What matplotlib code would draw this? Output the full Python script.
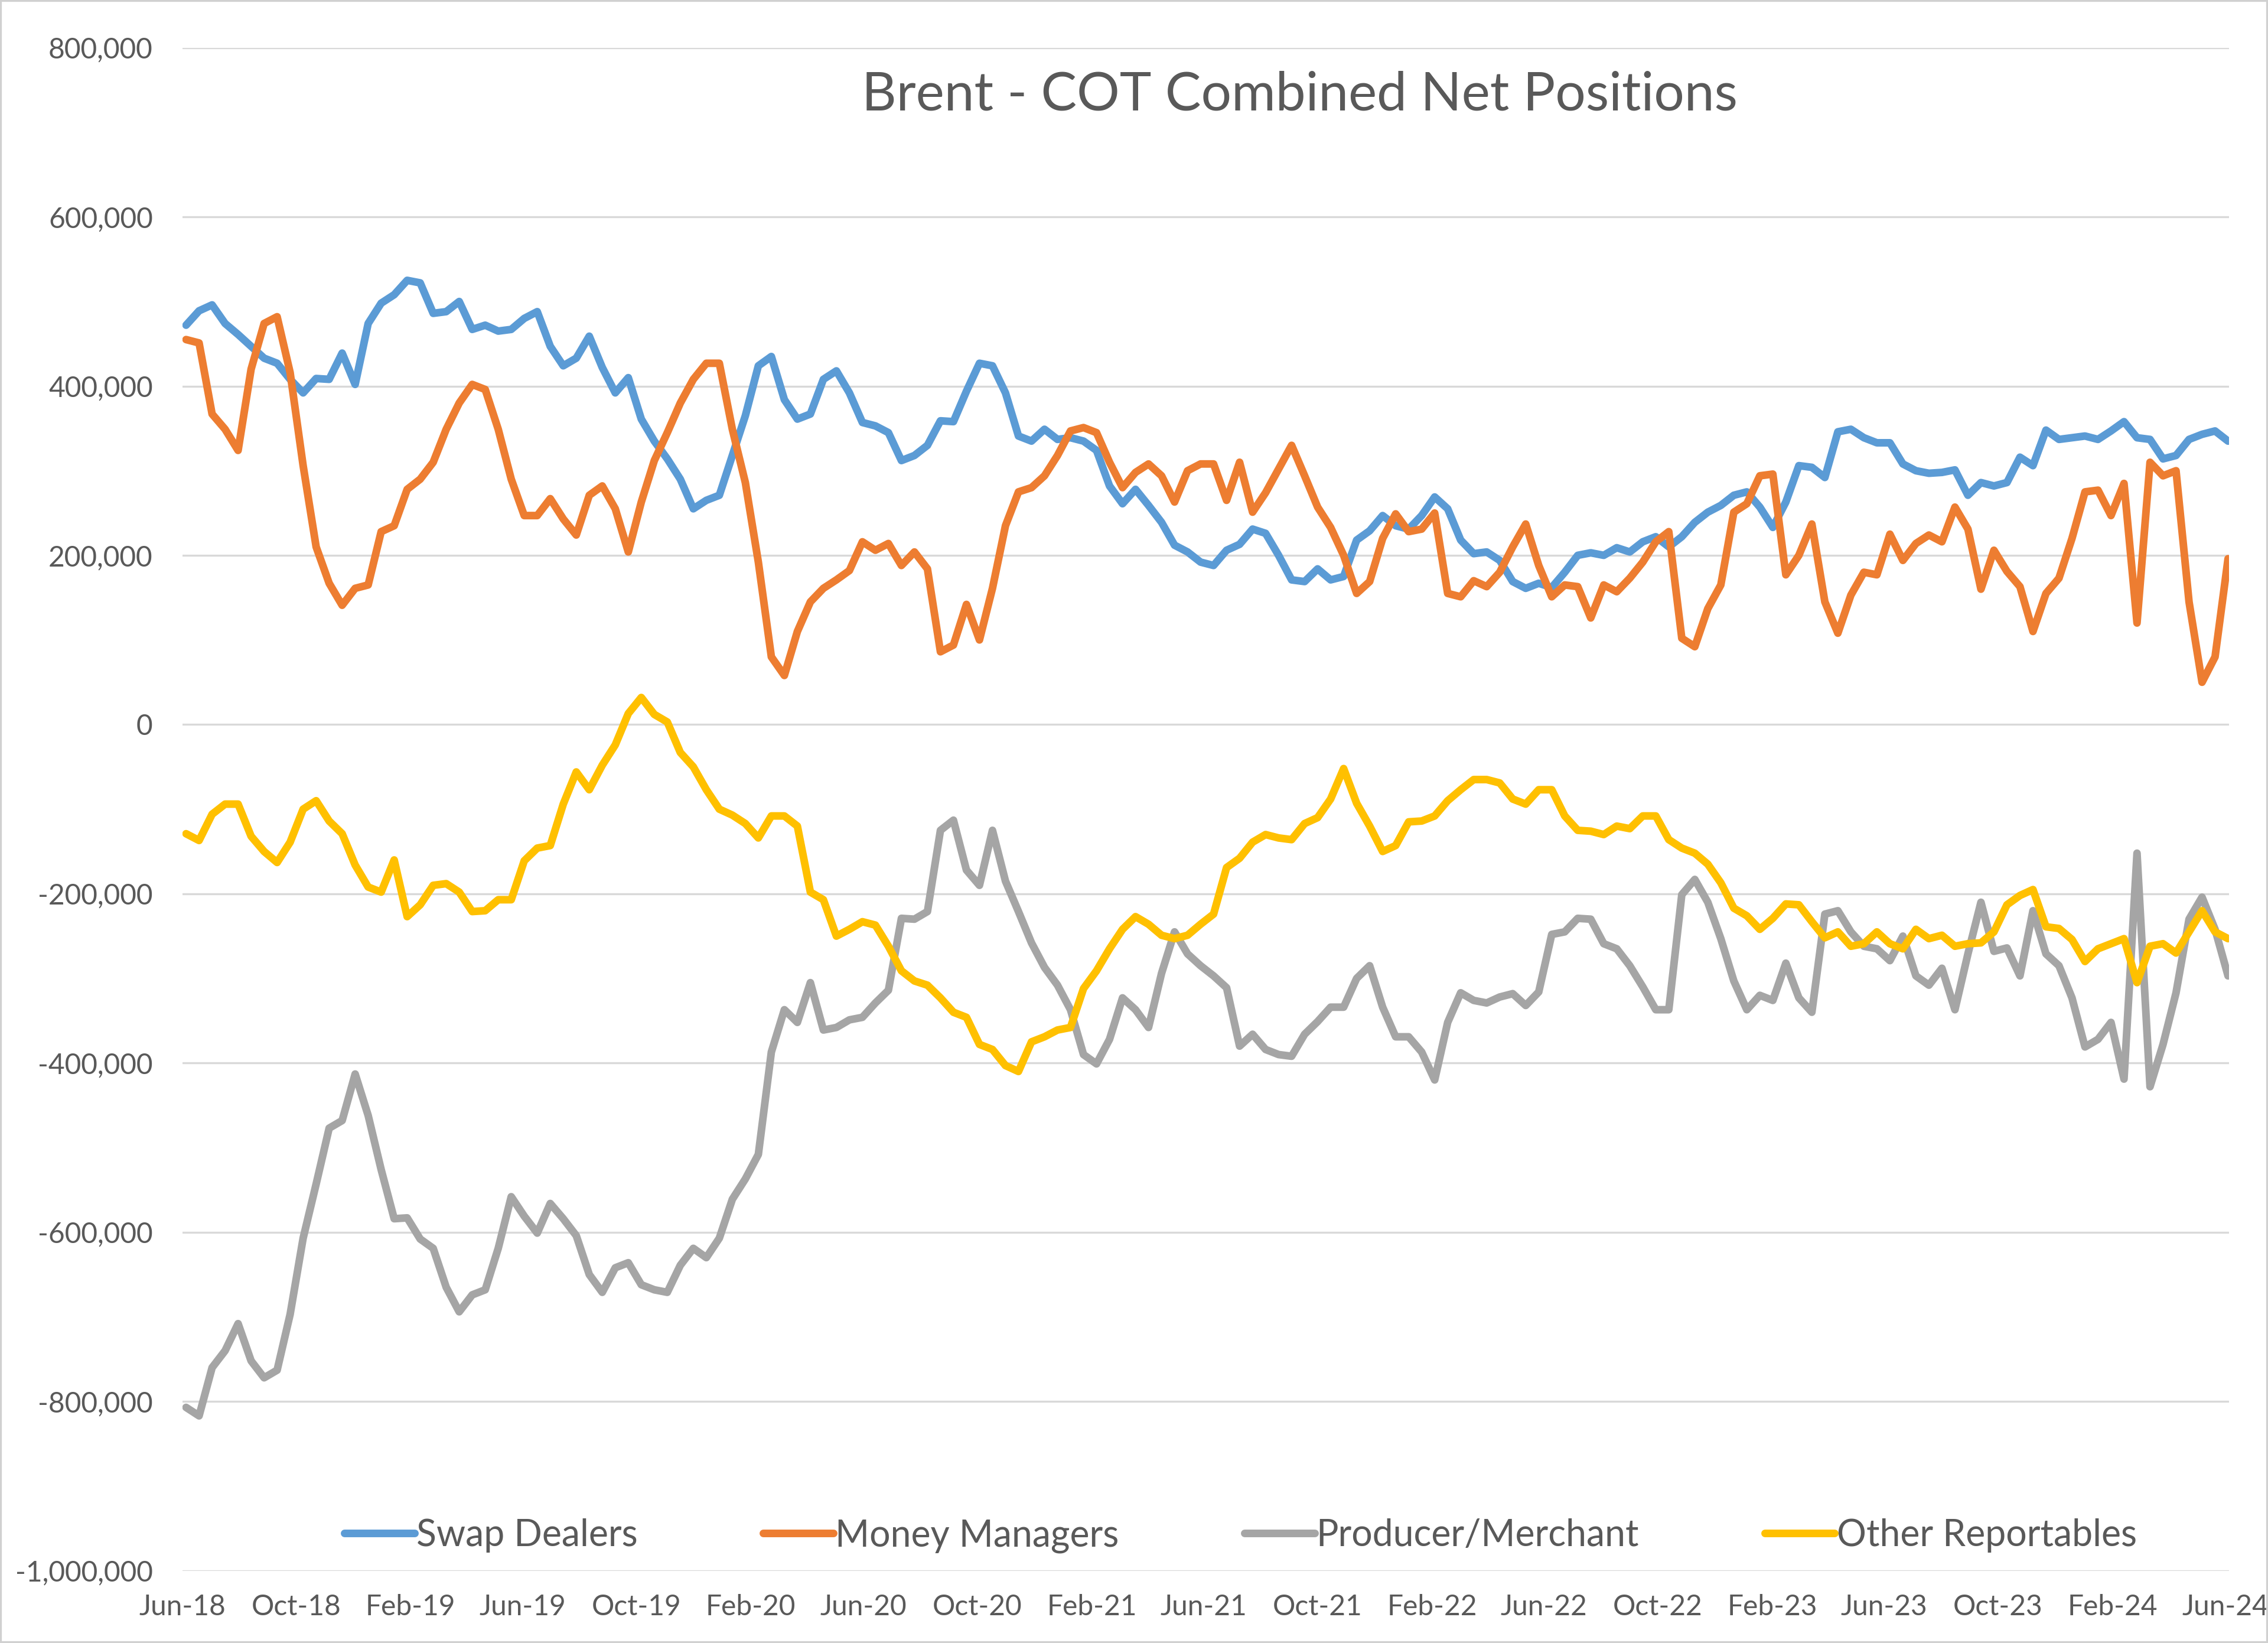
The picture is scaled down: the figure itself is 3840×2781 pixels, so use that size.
import numpy as np
import pandas as pd
import matplotlib
matplotlib.use("Agg")
import matplotlib.pyplot as plt
from matplotlib.ticker import FuncFormatter, MultipleLocator
from matplotlib.patches import Rectangle

plt.rcParams['font.family'] = ['Lato', 'DejaVu Sans']

# net positions in thousands of contracts, read fortnightly from Jun-18 to Jun-24
swap_dealers = [
    472, 489, 496, 474, 461, 447, 433, 427, 408, 392, 409, 408, 439, 402, 474, 498,
    508, 525, 522, 486, 488, 500, 467, 472, 465, 467, 480, 488, 447, 424, 433, 459,
    422, 392, 410, 361, 335, 314, 290, 255, 265, 271, 318, 365, 424, 435, 384, 361,
    367, 408, 418, 392, 357, 353, 345, 312, 318, 330, 359, 358, 394, 427, 424, 392,
    341, 335, 349, 337, 339, 335, 324, 282, 261, 278, 259, 239, 212, 204, 192, 188,
    206, 213, 231, 226, 200, 171, 169, 184, 171, 175, 218, 229, 247, 235, 231, 247,
    269, 255, 218, 202, 204, 194, 169, 161, 167, 162, 180, 200, 203, 200, 209, 204,
    216, 222, 210, 222, 239, 251, 259, 271, 275, 257, 233, 263, 306, 304, 292, 346,
    349, 339, 333, 333, 308, 300, 297, 298, 301, 271, 286, 282, 286, 316, 306, 348,
    337, 339, 341, 337, 347, 358, 339, 337, 314, 318, 337, 343, 347, 335,
]
money_managers = [
    455, 451, 367, 349, 324, 420, 474, 482, 416, 306, 210, 167, 141, 161, 165, 228,
    235, 278, 290, 310, 349, 380, 402, 396, 349, 290, 247, 247, 267, 243, 224, 271,
    282, 255, 204, 263, 312, 345, 380, 408, 427, 427, 349, 286, 192, 80, 58, 110,
    145, 161, 171, 182, 216, 206, 214, 188, 204, 184, 86, 94, 142, 100, 161, 235,
    275, 280, 294, 318, 347, 351, 345, 310, 280, 298, 308, 294, 263, 300, 308, 308,
    265, 310, 251, 274, 302, 330, 294, 257, 233, 200, 155, 169, 220, 249, 228, 231,
    250, 155, 151, 170, 163, 180, 210, 237, 188, 151, 165, 163, 126, 165, 157, 173,
    192, 216, 228, 102, 92, 137, 165, 251, 261, 294, 296, 177, 200, 237, 145, 108,
    153, 180, 177, 225, 194, 214, 224, 216, 257, 231, 160, 206, 181, 163, 110, 155,
    173, 220, 275, 277, 247, 285, 120, 310, 294, 300, 145, 50, 80, 196,
]
producer_merchant = [
    -807, -817, -760, -740, -708, -752, -772, -763, -697, -607, -543, -477, -468, -413, -462, -526,
    -584, -583, -608, -619, -665, -694, -674, -668, -619, -558, -581, -601, -566, -584, -604, -650,
    -671, -642, -636, -662, -668, -671, -639, -619, -630, -607, -561, -537, -508, -387, -337, -352,
    -305, -361, -358, -349, -346, -329, -314, -229, -230, -221, -125, -113, -172, -190, -125, -185,
    -221, -258, -287, -308, -337, -390, -401, -372, -323, -337, -358, -294, -245, -271, -285, -297,
    -311, -380, -366, -384, -390, -392, -366, -351, -334, -334, -300, -285, -334, -369, -369, -387,
    -420, -352, -317, -326, -329, -322, -318, -332, -316, -248, -245, -229, -230, -259, -265, -285,
    -310, -337, -337, -201, -183, -210, -253, -303, -337, -320, -326, -282, -323, -340, -224, -220,
    -245, -262, -265, -279, -250, -297, -308, -288, -337, -271, -210, -268, -264, -297, -220, -271,
    -285, -323, -381, -372, -352, -419, -152, -428, -378, -317, -230, -204, -242, -297,
]
other_reportables = [
    -129, -137, -106, -94, -94, -132, -150, -163, -139, -100, -90, -114, -129, -166, -192, -198,
    -160, -227, -213, -190, -188, -198, -221, -220, -207, -207, -161, -146, -143, -94, -56, -77,
    -48, -24, 13, 32, 12, 3, -33, -50, -77, -100, -107, -117, -134, -108, -108, -120,
    -198, -207, -250, -242, -233, -237, -262, -291, -303, -308, -323, -340, -346, -378, -384, -403,
    -410, -375, -369, -361, -358, -312, -291, -265, -242, -227, -236, -249, -253, -249, -236, -224,
    -169, -158, -139, -130, -134, -136, -117, -110, -88, -52, -93, -120, -150, -143, -115, -114,
    -108, -90, -77, -65, -65, -69, -88, -94, -77, -77, -108, -125, -126, -130, -120, -123,
    -108, -108, -136, -146, -152, -165, -187, -217, -226, -242, -229, -212, -213, -233, -252, -245,
    -262, -259, -245, -259, -265, -242, -253, -249, -262, -259, -258, -245, -213, -202, -195, -239,
    -241, -254, -280, -265, -259, -253, -305, -262, -259, -270, -245, -220, -245, -253,
]

dates = pd.date_range('2018-06-05', '2024-06-04', periods=len(swap_dealers))
tick_dates = pd.date_range('2018-06-01', '2024-06-01', freq='4MS')

series = [
    ('Swap Dealers', swap_dealers, '#5B9BD5'),
    ('Money Managers', money_managers, '#ED7D31'),
    ('Producer/Merchant', producer_merchant, '#A5A5A5'),
    ('Other Reportables', other_reportables, '#FFC000'),
]

fig = plt.figure(figsize=(12.8, 9.27), dpi=300)
ax = fig.add_axes([0.0804, 0.044, 0.9024, 0.927])

for name, vals, col in series:
    ax.plot(dates, np.array(vals) * 1000, color=col, lw=3.1, label=name,
            solid_joinstyle='round', solid_capstyle='round')

ax.set_ylim(-1000000, 800000)
ax.yaxis.set_major_locator(MultipleLocator(200000))
ax.yaxis.set_major_formatter(FuncFormatter(lambda v, p: f'{v:,.0f}'))
ax.set_xlim(pd.Timestamp('2018-06-01'), pd.Timestamp('2024-06-05'))
ax.set_xticks(tick_dates)
ax.set_xticklabels([d.strftime('%b-%y') for d in tick_dates])

ax.grid(axis='y', color='#D9D9D9', lw=0.8)
ax.set_axisbelow(True)
for s in ax.spines.values():
    s.set_visible(False)
ax.tick_params(axis='y', length=0, pad=12, labelsize=11.5, labelcolor='#595959')
ax.tick_params(axis='x', length=0, pad=9.5, labelsize=11.5, labelcolor='#595959')

fig.text(0.573, 0.942, 'Brent - COT Combined Net Positions', ha='center', va='center',
         fontsize=21.8, color='#595959')

ax.legend(loc='center', bbox_to_anchor=(0.517, 0.023), ncol=4, frameon=False,
          fontsize=15, labelcolor='#595959', handlelength=1.9, handletextpad=0.05,
          columnspacing=3.4)

fig.patches.append(Rectangle((0, 0), 1, 1, transform=fig.transFigure, fill=False,
                             edgecolor='#D0D0D0', lw=1.5))

fig.savefig('out.png', dpi=300)
